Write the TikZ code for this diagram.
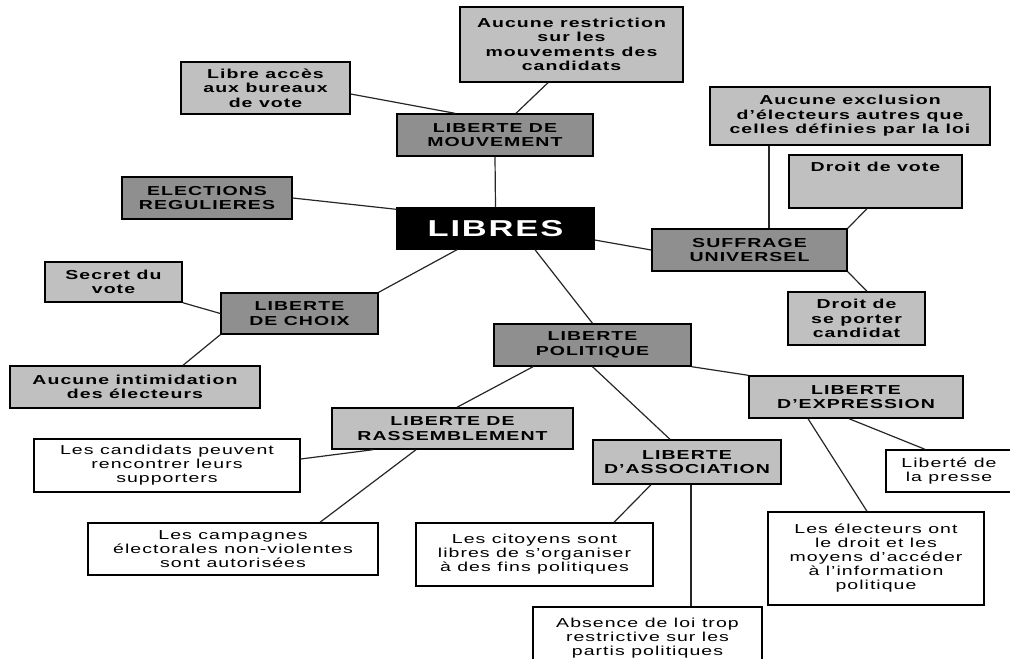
\documentclass[tikz,border=0pt]{standalone}
\usepackage{fontspec}
\setmainfont{Liberation Sans}[FakeStretch=1.5,LetterSpace=8]
\usepackage{xcolor}
\usepackage{tikz}

\definecolor{darkbox}{RGB}{143,143,143}
\definecolor{lightbox}{RGB}{192,192,192}

\begin{document}
\begin{tikzpicture}[x=1pt, y=-1pt,
            box/.style = {draw=black, line width=1.4pt, inner sep=0pt, align=center,
                          font=\fontsize{13}{14}\selectfont},
            dark/.style = {box, fill=darkbox, font=\bfseries\fontsize{13}{14.4}\selectfont},
            light/.style = {box, fill=lightbox, font=\bfseries\fontsize{13}{14.4}\selectfont},
            plain/.style = {box, fill=white},
            link/.style = {line width=1.2pt, black!85}]
        \clip (0,0) rectangle (1010,659);
        % centre
        \node[box, fill=black, text=white, minimum width=197pt, minimum height=41pt,
              font=\bfseries\fontsize{23}{25}\selectfont] (nlib) at (495.5,228.5) {LIBRES};
        % mouvement
        \node[dark, minimum width=196pt, minimum height=42pt] (nmouv) at (495,135) {LIBERTE DE\\MOUVEMENT};
        \node[light, minimum width=223pt, minimum height=75pt] (nrestr) at (571.5,44.5) {Aucune restriction\\sur les\\mouvements des\\candidats};
        \node[light, minimum width=169pt, minimum height=52pt] (nacces) at (265.5,88) {Libre accès\\aux bureaux\\de vote};
        \node[dark, minimum width=170pt, minimum height=42pt] (nelect) at (207,198) {ELECTIONS\\REGULIERES};
        % choix
        \node[dark, minimum width=157pt, minimum height=41pt] (nchoix) at (299.5,313.5) {LIBERTE\\DE CHOIX};
        \node[light, minimum width=137pt, minimum height=40pt] (nsecret) at (113.5,282) {Secret du\\vote};
        \node[light, minimum width=250pt, minimum height=42pt] (nintim) at (135,387) {Aucune intimidation\\des électeurs};
        % suffrage
        \node[dark, minimum width=195pt, minimum height=42pt] (nsuff) at (749.5,250) {SUFFRAGE\\UNIVERSEL};
        \node[light, minimum width=280pt, minimum height=58pt] (nexcl) at (850,116) {Aucune exclusion\\d’électeurs autres que\\celles définies par la loi};
        \node[light, minimum width=173pt, minimum height=53pt] (nvote) at (875.5,181.5) {Droit de vote\\\mbox{}\\\mbox{}};
        \node[light, minimum width=137pt, minimum height=53pt] (ncand) at (856.5,318.5) {Droit de\\se porter\\candidat};
        % politique
        \node[dark, minimum width=197pt, minimum height=42pt] (npol) at (592.5,345) {LIBERTE\\POLITIQUE};
        \node[light, minimum width=241pt, minimum height=41pt] (nrass) at (452.5,428.5) {LIBERTE DE\\RASSEMBLEMENT};
        \node[light, minimum width=188pt, minimum height=44pt] (nassoc) at (687,462) {LIBERTE\\D’ASSOCIATION};
        \node[light, minimum width=214pt, minimum height=42pt] (nexpr) at (856,397) {LIBERTE\\D’EXPRESSION};
        \node[plain, minimum width=266pt, minimum height=53pt] (nrenc) at (167,465.5) {Les candidats peuvent\\rencontrer leurs\\supporters};
        \node[plain, minimum width=290pt, minimum height=52pt] (ncamp) at (233,549) {Les campagnes\\électorales non-violentes\\sont autorisées};
        \node[plain, minimum width=237pt, minimum height=63pt] (ncit) at (534.5,554.5) {Les citoyens sont\\libres de s’organiser\\à des fins politiques};
        \node[plain, minimum width=229pt, minimum height=62pt] (nabs) at (647.5,638) {Absence de loi trop\\restrictive sur les\\partis politiques};
        \node[plain, minimum width=126pt, minimum height=42pt] (npresse) at (949,471) {Liberté de\\la presse};
        \node[plain, minimum width=216pt, minimum height=93pt] (nvoter) at (876,558.5) {Les électeurs ont\\le droit et les\\moyens d’accéder\\à l’information\\politique};
        % liens
        \draw[link] (nmouv.south) -- (nlib.north);
        \draw[link] ([yshift=-6pt]nacces.east) -- ([xshift=-40pt]nmouv.north);
        \draw[link] ([xshift=-23.5pt]nrestr.south) -- ([xshift=21pt]nmouv.north);
        \draw[link] (nelect.east) -- ([yshift=-2pt]nlib.north west);
        \draw[link] ([xshift=-38.5pt]nlib.south) -- (nchoix.north east);
        \draw[link] (nsecret.south east) -- (nchoix.west);
        \draw[link] (nchoix.south west) -- ([xshift=48pt]nintim.north);
        \draw[link] ([yshift=-11.5pt]nlib.east) -- (nsuff.west);
        \draw[link] ([xshift=19.5pt]nsuff.north) -- ([xshift=-81pt]nexcl.south);
        \draw[link] (nsuff.north east) -- ([xshift=-8.5pt]nvote.south);
        \draw[link] (nsuff.south east) -- ([xshift=10.5pt]ncand.north);
        \draw[link] ([xshift=39.5pt]nlib.south) -- (npol.north);
        \draw[link] ([xshift=-59.5pt]npol.south) -- ([xshift=4.5pt]nrass.north);
        \draw[link] (npol.south) -- ([xshift=-17pt]nassoc.north);
        \draw[link] (npol.south east) -- (nexpr.north west);
        \draw[link] ([xshift=-79.5pt]nrass.south) -- ([yshift=6.5pt]nrenc.east);
        \draw[link] ([xshift=-36.5pt]nrass.south) -- ([xshift=87pt]ncamp.north);
        \draw[link] ([xshift=-36pt]nassoc.south) -- ([xshift=79.5pt]ncit.north);
        \draw[link] ([xshift=4pt]nassoc.south) -- ([xshift=43.5pt]nabs.north);
        \draw[link] ([xshift=-48pt]nexpr.south) -- ([xshift=-9pt]nvoter.north);
        \draw[link] ([xshift=-7pt]nexpr.south) -- ([xshift=-24pt]npresse.north);
\end{tikzpicture}
\end{document}
